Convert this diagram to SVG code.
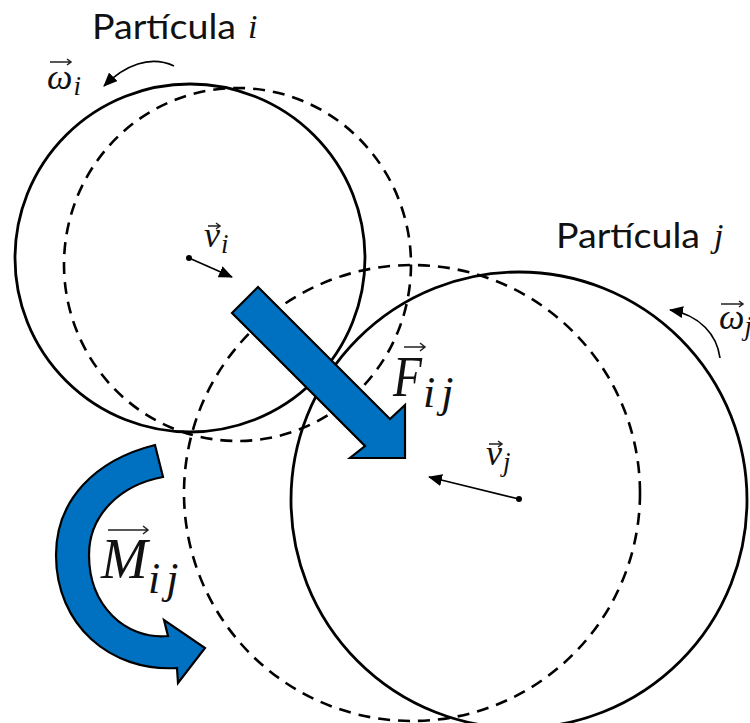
<svg xmlns="http://www.w3.org/2000/svg" width="750" height="723" viewBox="0 0 750 723">
<defs>
<marker id="ah" markerUnits="userSpaceOnUse" markerWidth="14" markerHeight="12" refX="13" refY="6" orient="auto"><path d="M0 0L14 6L0 12Z" fill="#000"/></marker>
</defs>
<style>
.solid{fill:none;stroke:#000;stroke-width:2.8}
.dash{fill:none;stroke:#000;stroke-width:2.6;stroke-dasharray:12 8}
.blue{fill:#0070c0;stroke:#000;stroke-width:2.2}
.thin{fill:none;stroke:#000;stroke-width:1.7}
.label{font-family:"Lato","Noto Sans",sans-serif;font-size:35px;fill:#111}
.m{font-family:"Liberation Serif","DejaVu Serif",serif;font-style:italic;fill:#111}
.bar{fill:none;stroke:#222;stroke-width:1.5}
</style>
<rect width="750" height="723" fill="#fff"/>
<g id="particle-i"><ellipse class="solid" cx="190" cy="258" rx="175" ry="174"/><ellipse class="dash" cx="237.5" cy="264.5" rx="173.5" ry="176.5"/></g>
<g id="particle-j"><circle class="solid" cx="519" cy="500" r="228"/><circle class="dash" cx="412" cy="493" r="228"/></g>
<g id="connectors">
<circle cx="189" cy="258" r="3" fill="#000"/>
<path class="thin" d="M189 258L232 277" marker-end="url(#ah)"/>
<circle cx="519" cy="499" r="3" fill="#000"/>
<path class="thin" d="M519 499L429 477" marker-end="url(#ah)"/>
<path class="thin" d="M174 66C150 55 125 65 104 86" marker-end="url(#ah)"/>
<path class="thin" d="M720 358C717 335 700 315 670 310" marker-end="url(#ah)"/>
</g>
<g id="force-arrow"><path class="blue" d="M258 287L232 313L365 446L350 458H405V405L390 419Z"/></g>
<g id="moment-arrow"><path class="blue" d="M155 445C95 460 56 500 56 555C56 625 110 672 177 668L178 683L205 648L164 620L168 636C125 640 89 605 89 555C89 515 120 485 163 477Z"/></g>
<g id="label-i"><text class="label" x="92" y="39" textLength="144" lengthAdjust="spacingAndGlyphs">Partícula</text><text class="m" x="248" y="38" font-size="34">i</text></g>
<g id="label-j"><text class="label" x="556" y="248" textLength="144" lengthAdjust="spacingAndGlyphs">Partícula</text><text class="m" x="714" y="247" font-size="34">j</text></g>
<g id="omega-i"><text class="m" x="47" y="89" font-size="36">ω<tspan font-size="27" dy="6" dx="1">i</tspan></text><path class="bar" d="M50 62H71M67 59L71 62L67 65"/></g>
<g id="omega-j"><text class="m" x="719" y="329" font-size="36">ω<tspan font-size="27" dy="6" dx="0">j</tspan></text><path class="bar" d="M721 304H743M739 301L743 304L739 307"/></g>
<g id="v-i"><text class="m" x="204" y="247" font-size="36">v<tspan font-size="27" dy="6" dx="1">i</tspan></text><path class="bar" d="M208 226H220M216 223L220 226L216 229"/></g>
<g id="v-j"><text class="m" x="486" y="465" font-size="36">v<tspan font-size="27" dy="6" dx="1">j</tspan></text><path class="bar" d="M489 444H502M498 441L502 444L498 447"/></g>
<g id="f-label"><text class="m" x="393" y="396" font-size="58" textLength="29" lengthAdjust="spacingAndGlyphs">F</text><text class="m" x="423" y="407" font-size="44" letter-spacing="6">ij</text><path class="bar" stroke-width="2" d="M404 347H425M420 343L425 347L420 351"/></g>
<g id="m-label"><text class="m" x="101" y="578" font-size="56">M</text><text class="m" x="148" y="593" font-size="44" letter-spacing="6">ij</text><path class="bar" d="M108 530H148M143 526L148 530L143 534"/></g>
</svg>
